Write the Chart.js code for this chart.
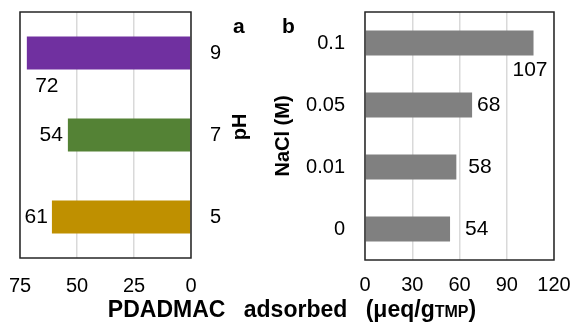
<!DOCTYPE html>
<html>
<head>
<meta charset="utf-8">
<script src="https://cdn.jsdelivr.net/npm/chart.js@4"></script>
<style>
  html, body { margin: 0; padding: 0; background: #fff; }
  #wrap { position: relative; width: 574px; height: 323px; font-family: "Liberation Sans", Arial, sans-serif; color: #000; overflow: hidden; }
  canvas { position: absolute; top: 0; }
  .lbl { position: absolute; font-weight: bold; white-space: nowrap; line-height: 1; }
</style>
</head>
<body>
<div id="wrap">
  <canvas id="graficoPH" width="270" height="323" style="left:0"></canvas>
  <canvas id="graficoNaCl" width="304" height="323" style="left:270px"></canvas>
  <div class="lbl" style="left:233px; top:15px; font-size:21px">a</div>
  <div class="lbl" style="left:282px; top:15px; font-size:21px">b</div>
  <div class="lbl" style="left:239px; top:127px; font-size:20px; transform:translate(-50%,-50%) rotate(-90deg)">pH</div>
  <div class="lbl" style="left:292px; top:298px; font-size:23px; word-spacing:12px; transform:translateX(-50%)">PDADMAC adsorbed (μeq/g<span style="font-size:16px">TMP</span>)</div>
</div>
<script>
const phCategorias = ['9', '7', '5'];
const phValores = [72, 54, 61];
const naclCategorias = ['0.1', '0.05', '0.01', '0'];
const naclValores = [107, 68, 58, 54];

const phColores = ['#7030A0', '#548235', '#BF9000'];
const grisBarra = '#808080';
const fuenteTicks = { family: '"Liberation Sans", Arial, sans-serif', size: 20 };

// marco negro alrededor del área del gráfico
const marcoPlugin = {
  id: 'marco',
  afterDatasetsDraw(chart) {
    const { ctx, chartArea: a } = chart;
    ctx.save();
    ctx.strokeStyle = '#262626';
    ctx.lineWidth = 1.5;
    ctx.strokeRect(a.left, a.top, a.right - a.left, a.bottom - a.top);
    ctx.restore();
  }
};

// valores junto a cada barra
const etiquetasPlugin = {
  id: 'etiquetas',
  afterDatasetsDraw(chart, args, opts) {
    const ctx = chart.ctx;
    const meta = chart.getDatasetMeta(0);
    const valores = chart.data.datasets[0].data;
    ctx.save();
    ctx.font = '21px "Liberation Sans", Arial, sans-serif';
    ctx.fillStyle = '#000';
    ctx.textBaseline = 'middle';
    meta.data.forEach((bar, i) => {
      const dir = Math.sign(bar.x - bar.base);
      if (opts.posicion[i] === 'debajo') {
        ctx.textAlign = 'center';
        ctx.fillText(valores[i], bar.x - dir * opts.dentro, bar.y + bar.height / 2 + opts.abajo);
      } else {
        ctx.textAlign = dir < 0 ? 'right' : 'left';
        ctx.fillText(valores[i], bar.x + dir * opts.hueco[i], bar.y);
      }
    });
    ctx.restore();
  }
};

// sin relleno extra por las etiquetas de los ejes
const fijarAlto = h => s => { s.height = h; s.paddingLeft = 0; s.paddingRight = 0; };
const fijarAncho = w => s => { s.width = w; s.paddingTop = 0; s.paddingBottom = 0; };

new Chart(document.getElementById('graficoPH').getContext('2d'), {
  type: 'bar',
  data: {
    labels: phCategorias,
    datasets: [{ data: phValores, backgroundColor: phColores, categoryPercentage: 0.8, barPercentage: 0.5 }]
  },
  options: {
    indexAxis: 'y',
    responsive: false,
    animation: false,
    layout: { padding: { left: 20, top: 12, right: 0, bottom: 0 } },
    scales: {
      x: {
        reverse: true, min: 0, max: 75,
        ticks: { stepSize: 25, padding: 16, font: fuenteTicks, color: '#000' },
        grid: { color: '#d9d9d9', lineWidth: 1.5, drawTicks: false },
        border: { display: false },
        afterFit: fijarAlto(65)
      },
      y: {
        position: 'right',
        ticks: { padding: 19, font: fuenteTicks, color: '#000' },
        grid: { display: false, drawTicks: false },
        border: { display: false },
        afterFit: fijarAncho(79)
      }
    },
    plugins: {
      legend: { display: false },
      tooltip: { enabled: false },
      etiquetas: { posicion: ['debajo', 'fuera', 'fuera'], dentro: 20, abajo: 17, hueco: [0, 5, 4] }
    }
  },
  plugins: [marcoPlugin, etiquetasPlugin]
});

new Chart(document.getElementById('graficoNaCl').getContext('2d'), {
  type: 'bar',
  data: {
    labels: naclCategorias,
    datasets: [{ data: naclValores, backgroundColor: grisBarra, categoryPercentage: 0.8, barPercentage: 0.5 }]
  },
  options: {
    indexAxis: 'y',
    responsive: false,
    animation: false,
    layout: { padding: { left: 0, top: 12, right: 20, bottom: 0 } },
    scales: {
      x: {
        min: 0, max: 120,
        ticks: { stepSize: 30, padding: 13, font: fuenteTicks, color: '#000' },
        grid: { color: '#d9d9d9', lineWidth: 1.5, drawTicks: false },
        border: { display: false },
        afterFit: fijarAlto(63)
      },
      y: {
        ticks: { padding: 20, font: fuenteTicks, color: '#000' },
        grid: { display: false, drawTicks: false },
        border: { display: false },
        title: {
          display: true, text: 'NaCl (M)', color: '#000',
          font: { family: '"Liberation Sans", Arial, sans-serif', size: 20, weight: 'bold' },
          padding: { top: 1, bottom: 0 }
        },
        afterFit: fijarAncho(95)
      }
    },
    plugins: {
      legend: { display: false },
      tooltip: { enabled: false },
      etiquetas: { posicion: ['debajo', 'fuera', 'fuera', 'fuera'], dentro: 3.5, abajo: 14.5, hueco: [0, 5, 12, 15] }
    }
  },
  plugins: [marcoPlugin, etiquetasPlugin]
});
</script>
</body>
</html>
